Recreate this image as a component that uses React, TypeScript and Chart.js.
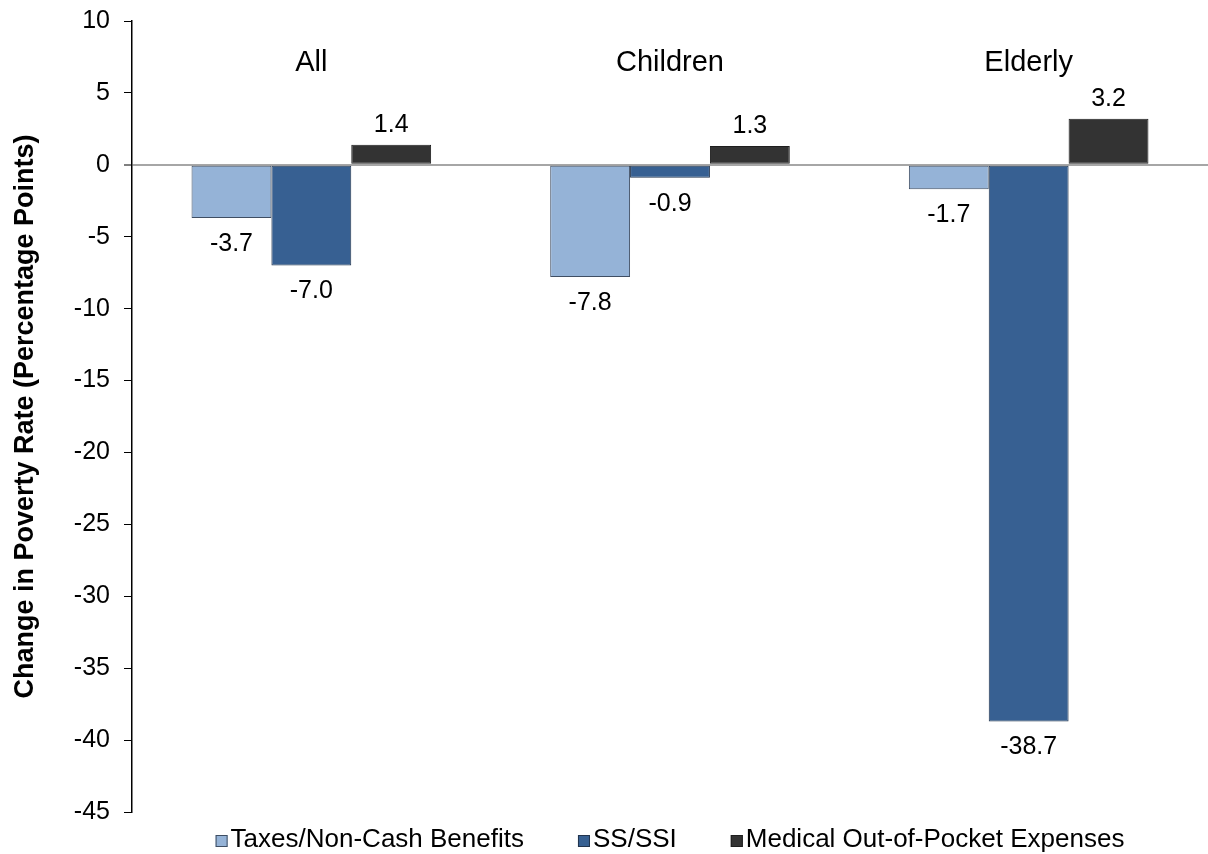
import React, { useEffect, useRef } from "react";
import { Chart, registerables } from "chart.js";

Chart.register(...registerables);

// Groups and series (change in poverty rate, percentage points)
const categories = ["All", "Children", "Elderly"];
const seriesNames = ["Taxes/Non-Cash Benefits", "SS/SSI", "Medical Out-of-Pocket Expenses"];
const taxesNonCash = [-3.7, -7.8, -1.7];
const ssSsi = [-7.0, -0.9, -38.7];
const medicalOop = [1.4, 1.3, 3.2];

const yMin = -45;
const yMax = 10;
const yStep = 5;
const yTitle = "Change in Poverty Rate (Percentage Points)";

const fills = ["#95B3D7", "#376092", "#333333"];
const edges = ["#3F4E63", "#22344D", "#1E1E1E"];
const FONT = '"Liberation Sans", Arial, Helvetica, sans-serif';

// Value labels above positive bars, below negative bars
const valueLabels = {
  id: "valueLabels",
  afterDatasetsDraw(chart: any) {
    const { ctx } = chart;
    ctx.save();
    ctx.font = `25px ${FONT}`;
    ctx.fillStyle = "#000";
    ctx.textAlign = "center";
    ctx.textBaseline = "alphabetic";
    chart.data.datasets.forEach((ds: any, di: number) => {
      const meta = chart.getDatasetMeta(di);
      meta.data.forEach((bar: any, i: number) => {
        const v = ds.data[i] as number;
        const y = v >= 0 ? bar.y - 13 : bar.y + 33;
        ctx.fillText(v.toFixed(1), bar.x, y);
      });
    });
    ctx.restore();
  },
};

// Group names written inside the plot, above each cluster
const groupHeaders = {
  id: "groupHeaders",
  afterDatasetsDraw(chart: any) {
    const { ctx, chartArea } = chart;
    const xs = chart.scales.x;
    ctx.save();
    ctx.font = `29px ${FONT}`;
    ctx.fillStyle = "#000";
    ctx.textAlign = "center";
    ctx.textBaseline = "alphabetic";
    (chart.data.labels as string[]).forEach((lab, i) => {
      ctx.fillText(lab, xs.getPixelForValue(i), chartArea.top + 50);
    });
    ctx.restore();
  },
};

// Legend row along the bottom, centred under the plot
const bottomLegend = {
  id: "bottomLegend",
  afterDraw(chart: any) {
    const { ctx, chartArea } = chart;
    const box = 12;
    const gap = 3;
    const spacing = 54;
    const baseline = chart.height - 7;
    ctx.save();
    ctx.font = `26px ${FONT}`;
    ctx.textBaseline = "alphabetic";
    ctx.textAlign = "left";
    const items = chart.data.datasets.map((ds: any) => ({
      text: ds.label as string,
      fill: ds.backgroundColor as string,
      edge: ds.borderColor as string,
      w: ctx.measureText(ds.label).width,
    }));
    const total =
      items.reduce((s: number, it: any) => s + box + gap + it.w, 0) + spacing * (items.length - 1);
    let x = (chartArea.left + chartArea.right) / 2 - total / 2;
    items.forEach((it: any) => {
      ctx.fillStyle = it.fill;
      ctx.fillRect(x, baseline - box, box, box);
      ctx.strokeStyle = it.edge;
      ctx.lineWidth = 1;
      ctx.strokeRect(x + 0.5, baseline - box + 0.5, box - 1, box - 1);
      ctx.fillStyle = "#000";
      ctx.fillText(it.text, x + box + gap, baseline);
      x += box + gap + it.w + spacing;
    });
    ctx.restore();
  },
};

export default function App() {
  const canvasRef = useRef<HTMLCanvasElement | null>(null);

  useEffect(() => {
    if (!canvasRef.current) return;
    const series = [taxesNonCash, ssSsi, medicalOop];
    const chart = new Chart(canvasRef.current, {
      type: "bar",
      data: {
        labels: categories,
        datasets: series.map((vals, i) => ({
          label: seriesNames[i],
          data: vals,
          backgroundColor: fills[i],
          borderColor: edges[i],
          borderWidth: 1,
          borderSkipped: false,
          categoryPercentage: 0.668,
          barPercentage: 1.0,
        })),
      },
      options: {
        responsive: true,
        maintainAspectRatio: false,
        animation: false,
        layout: { padding: { top: 21, bottom: 42, left: 0, right: 0 } },
        plugins: {
          legend: { display: false },
          tooltip: { enabled: false },
        },
        scales: {
          x: { display: false },
          y: {
            min: yMin,
            max: yMax,
            afterFit(scale: any) {
              scale.width = 132;
              scale.paddingTop = 0;
              scale.paddingBottom = 0;
            },
            ticks: {
              stepSize: yStep,
              padding: 14,
              color: "#000",
              font: { family: FONT, size: 25 },
            },
            grid: {
              drawTicks: true,
              tickLength: 8,
              tickColor: "#000",
              tickWidth: 1,
              color: (c: any) => (c.tick && c.tick.value === 0 ? "#A6A6A6" : "rgba(0,0,0,0)"),
              lineWidth: (c: any) => (c.tick && c.tick.value === 0 ? 2 : 1),
            },
            border: { display: true, color: "#000", width: 1.5 },
            title: {
              display: true,
              text: yTitle,
              color: "#000",
              font: { family: FONT, size: 27, weight: "bold" },
              padding: { top: 9, bottom: 0 },
            },
          },
        },
      },
      plugins: [valueLabels, groupHeaders, bottomLegend],
    });
    return () => chart.destroy();
  }, []);

  return (
    <div
      style={{
        position: "fixed",
        left: 0,
        top: 0,
        width: 1208,
        height: 854,
        background: "#fff",
      }}
    >
      <canvas ref={canvasRef} />
    </div>
  );
}
